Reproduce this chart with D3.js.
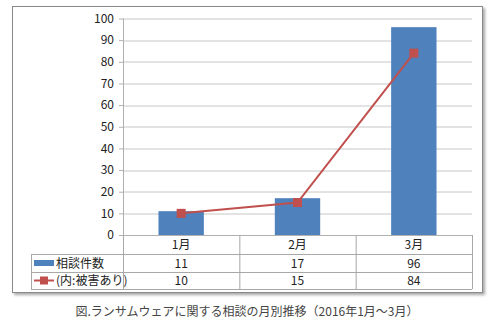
<!DOCTYPE html>
<html>
<head>
<meta charset="utf-8">
<script src="https://cdn.jsdelivr.net/npm/d3@7"></script>
<style>
  body { margin: 0; background: #fff; }
  text { font-family: "Noto Sans CJK JP", "Noto Sans", sans-serif; fill: #222; }
</style>
</head>
<body>
<div id="chart"></div>
<script>
// data
var months = ["1月", "2月", "3月"];
var consultations = [11, 17, 96];
var damaged = [10, 15, 84];
var seriesNames = ["相談件数", "(内:被害あり)"];
var yTicks = [0, 10, 20, 30, 40, 50, 60, 70, 80, 90, 100];
var caption = "図.ランサムウェアに関する相談の月別推移（2016年1月～3月）";

var svgWidth = 494, svgHeight = 322;
var margin = { top: 18.5, left: 123, right: 22, bottom: 87 };
var width = svgWidth - margin.left - margin.right;
var height = 235 - margin.top;

var svg = d3.select("#chart").append("svg")
  .attr("width", svgWidth)
  .attr("height", svgHeight);

// frame with a soft shadow
var defs = svg.append("defs");
var f = defs.append("filter").attr("id", "shadow").attr("x", "-5%").attr("y", "-5%").attr("width", "115%").attr("height", "115%");
f.append("feDropShadow").attr("dx", 2).attr("dy", 2).attr("stdDeviation", 1.5).attr("flood-color", "#000").attr("flood-opacity", 0.35);

svg.append("rect")
  .attr("x", 12.5).attr("y", 6.5).attr("width", 470).attr("height", 286)
  .attr("fill", "#fff").attr("stroke", "#8a8a8a").attr("stroke-width", 1)
  .attr("filter", "url(#shadow)");

var g = svg.append("g").attr("transform", `translate(${margin.left},${margin.top})`);

var x = d3.scaleBand().domain(months).range([0, width]);
var y = d3.scaleLinear().domain([0, 100]).range([height, 0]);

// gridlines
g.selectAll(".grid").data(yTicks.slice(1)).enter().append("line")
  .attr("x1", 0).attr("x2", width)
  .attr("y1", d => Math.round(y(d)) + 0.5).attr("y2", d => Math.round(y(d)) + 0.5)
  .attr("stroke", "#c6c6c6");

// y axis
var yAxis = g.append("g").call(d3.axisLeft(y).tickValues(yTicks).tickSize(4).tickPadding(5));
yAxis.select(".domain").attr("stroke", "#b0b0b0").attr("d", `M0.5,${height}V0`);
yAxis.selectAll(".tick line").attr("stroke", "#b0b0b0");
yAxis.selectAll(".tick text").attr("font-size", 12).style("fill", "#222");

// bars
var barW = x.bandwidth() * 0.39;
g.selectAll(".bar").data(consultations).enter().append("rect")
  .attr("x", (d, i) => x(months[i]) + x.bandwidth() / 2 - barW / 2)
  .attr("y", d => y(d))
  .attr("width", barW)
  .attr("height", d => height - y(d))
  .attr("fill", "#4f81bd");

// line
var line = d3.line()
  .x((d, i) => x(months[i]) + x.bandwidth() / 2)
  .y(d => y(d));
g.append("path").datum(damaged)
  .attr("d", line).attr("fill", "none")
  .attr("stroke", "#c0504d").attr("stroke-width", 2);
g.selectAll(".mk").data(damaged).enter().append("rect")
  .attr("x", (d, i) => x(months[i]) + x.bandwidth() / 2 - 4.5)
  .attr("y", d => y(d) - 4.5)
  .attr("width", 9).attr("height", 9)
  .attr("fill", "#c0504d");

// data table
var rowTop = [height, height + 19, height + 37, height + 54];
var tableLeft = 31 - margin.left;
var lc = "#a8a8a8";
var tg = g.append("g");
// horizontal lines
tg.append("line").attr("x1", 0).attr("x2", width).attr("y1", height + 0.5).attr("y2", height + 0.5).attr("stroke", "#b0b0b0");
[1, 2, 3].forEach(function (r) {
  tg.append("line").attr("x1", tableLeft).attr("x2", width)
    .attr("y1", rowTop[r] + 0.5).attr("y2", rowTop[r] + 0.5).attr("stroke", lc);
});
// vertical lines
tg.append("line").attr("x1", tableLeft + 0.5).attr("x2", tableLeft + 0.5)
  .attr("y1", rowTop[1]).attr("y2", rowTop[3]).attr("stroke", lc);
months.forEach(function (m, i) {
  tg.append("line").attr("x1", x(m) + 0.5).attr("x2", x(m) + 0.5)
    .attr("y1", rowTop[0]).attr("y2", rowTop[3]).attr("stroke", lc);
});
tg.append("line").attr("x1", width + 0.5).attr("x2", width + 0.5)
  .attr("y1", rowTop[0]).attr("y2", rowTop[3]).attr("stroke", lc);

// header row
tg.selectAll(".hdr").data(months).enter().append("text")
  .attr("x", d => x(d) + x.bandwidth() / 2)
  .attr("y", (rowTop[0] + rowTop[1]) / 2 + 4.5)
  .attr("text-anchor", "middle").attr("font-size", 12)
  .text(d => d);

// value rows
[consultations, damaged].forEach(function (vals, r) {
  tg.selectAll(".v" + r).data(vals).enter().append("text")
    .attr("x", (d, i) => x(months[i]) + x.bandwidth() / 2)
    .attr("y", (rowTop[r + 1] + rowTop[r + 2]) / 2 + 4.5)
    .attr("text-anchor", "middle").attr("font-size", 12)
    .text(d => d);
  tg.append("text")
    .attr("x", tableLeft + 25)
    .attr("y", (rowTop[r + 1] + rowTop[r + 2]) / 2 + 4.5)
    .attr("font-size", 12)
    .text(seriesNames[r]);
});

// legend keys
var k1 = (rowTop[1] + rowTop[2]) / 2;
tg.append("rect").attr("x", tableLeft + 3).attr("y", k1 - 3).attr("width", 20).attr("height", 6).attr("fill", "#4f81bd");
var k2 = (rowTop[2] + rowTop[3]) / 2;
tg.append("line").attr("x1", tableLeft + 3).attr("x2", tableLeft + 23).attr("y1", k2).attr("y2", k2)
  .attr("stroke", "#c0504d").attr("stroke-width", 2);
tg.append("rect").attr("x", tableLeft + 9).attr("y", k2 - 4).attr("width", 8).attr("height", 8).attr("fill", "#c0504d");

// caption
svg.append("text")
  .attr("x", 247).attr("y", 316)
  .attr("text-anchor", "middle").attr("font-size", 12)
  .style("fill", "#444")
  .text(caption);
</script>
</body>
</html>
